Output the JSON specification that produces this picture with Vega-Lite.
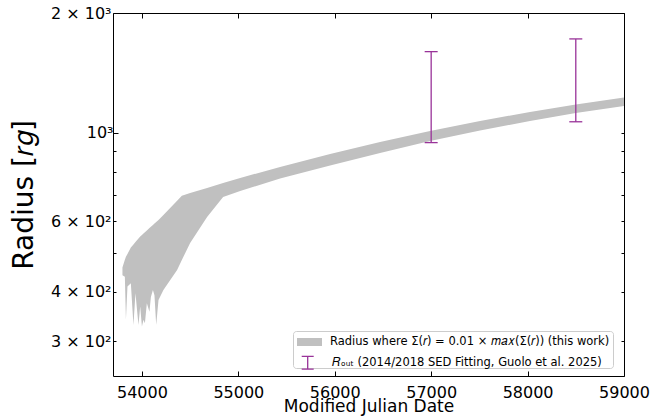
{
  "$schema": "https://vega.github.io/schema/vega-lite/v6.json",
  "width": 511,
  "height": 363,
  "autosize": {"type": "none"},
  "padding": {"left": 113, "top": 13, "right": 46, "bottom": 40},
  "background": "white",
  "config": {
    "view": {"stroke": "black", "strokeWidth": 1},
    "font": "DejaVu Sans",
    "axis": {"grid": false, "domain": false, "tickColor": "black", "labelColor": "black", "titleColor": "black", "titleFontWeight": "normal", "labelFont": "DejaVu Sans", "titleFont": "DejaVu Sans", "labelFontSize": 16, "tickWidth": 1, "labelOverlap": false, "labelFlush": false},
    "legend": {"labelFontSize": 11.5, "labelFont": "DejaVu Sans", "labelColor": "black", "labelLimit": 0, "padding": 3}
  },
  "datasets": {
    "band": [
      {"mjd": 53798, "lo": 440, "hi": 460},
      {"mjd": 53823, "lo": 436, "hi": 481},
      {"mjd": 53834, "lo": 340, "hi": 489},
      {"mjd": 53850, "lo": 412, "hi": 497},
      {"mjd": 53885, "lo": 420, "hi": 516},
      {"mjd": 53912, "lo": 330, "hi": 525},
      {"mjd": 53933, "lo": 396, "hi": 533},
      {"mjd": 53964, "lo": 330, "hi": 544},
      {"mjd": 53982, "lo": 367, "hi": 550},
      {"mjd": 54000, "lo": 327, "hi": 555},
      {"mjd": 54016, "lo": 340, "hi": 560},
      {"mjd": 54031, "lo": 333, "hi": 564},
      {"mjd": 54051, "lo": 374, "hi": 569},
      {"mjd": 54078, "lo": 356, "hi": 578},
      {"mjd": 54093, "lo": 388, "hi": 582},
      {"mjd": 54114, "lo": 404, "hi": 588},
      {"mjd": 54130, "lo": 392, "hi": 593},
      {"mjd": 54148, "lo": 330, "hi": 598},
      {"mjd": 54172, "lo": 381, "hi": 605},
      {"mjd": 54223, "lo": 404, "hi": 623},
      {"mjd": 54365, "lo": 453, "hi": 676},
      {"mjd": 54414, "lo": 480, "hi": 696},
      {"mjd": 54500, "lo": 530, "hi": 707},
      {"mjd": 54676, "lo": 616, "hi": 728},
      {"mjd": 54842, "lo": 691, "hi": 749},
      {"mjd": 55019, "lo": 715, "hi": 771},
      {"mjd": 55433, "lo": 769, "hi": 822},
      {"mjd": 55952, "lo": 829, "hi": 886},
      {"mjd": 56470, "lo": 891, "hi": 949},
      {"mjd": 56988, "lo": 955, "hi": 1012},
      {"mjd": 57507, "lo": 1015, "hi": 1072},
      {"mjd": 58025, "lo": 1072, "hi": 1129},
      {"mjd": 58500, "lo": 1123, "hi": 1179},
      {"mjd": 59000, "lo": 1169, "hi": 1228}
    ],
    "rout": [
      {"mjd": 57000, "lo": 946, "hi": 1600},
      {"mjd": 58500, "lo": 1067, "hi": 1722}
    ]
  },
  "layer": [
    {
      "data": {"name": "band"},
      "mark": {"type": "area", "opacity": 1, "clip": true},
      "encoding": {
        "x": {"field": "mjd", "type": "quantitative", "scale": {"domain": [53700, 59000], "nice": false, "zero": false},
          "axis": {"orient": "bottom", "values": [54000, 55000, 56000, 57000, 58000, 59000], "format": "d", "tickSize": -5, "labelPadding": 13, "title": "Modified Julian Date", "titleFontSize": 17, "titlePadding": -2}},
        "y": {"field": "lo", "type": "quantitative", "scale": {"type": "log", "domain": [245.7, 2000], "nice": false},
          "axis": {"orient": "left", "values": [300, 400, 500, 600, 700, 800, 900, 2000], "tickSize": -3, "labelPadding": 5,
            "labelExpr": "datum.value == 2000 ? '2 × 10³' : datum.value == 600 ? '6 × 10²' : datum.value == 400 ? '4 × 10²' : datum.value == 300 ? '3 × 10²' : ''",
            "title": "Radius  [𝑟𝑔]", "titleFontSize": 28, "titlePadding": 12}},
        "y2": {"field": "hi"},
        "fill": {"datum": "Radius where Σ(𝑟) = 0.01 × 𝑚𝑎𝑥(Σ(𝑟)) (this work)", "type": "nominal",
          "scale": {"range": ["#c0c0c0"]},
          "legend": {"orient": "none", "legendX": 180, "legendY": 318, "title": " ", "titleOrient": "bottom", "titleFontSize": 13, "titlePadding": 4,
            "fillColor": "rgba(255,255,255,0.85)", "strokeColor": "#cccccc", "cornerRadius": 3,
            "symbolType": "M-1.56,-0.5H1.56V0.5H-1.56Z", "symbolSize": 256, "symbolStrokeWidth": 0, "symbolOffset": 5.5, "labelOffset": 12.5}}
      }
    },
    {
      "data": {"name": "rout"},
      "mark": {"type": "rule", "strokeWidth": 1.3},
      "encoding": {
        "x": {"field": "mjd", "type": "quantitative", "axis": {"orient": "top", "values": [54000, 55000, 56000, 57000, 58000, 59000], "tickSize": -5, "labels": false, "title": null}},
        "y": {"field": "lo", "type": "quantitative", "axis": {"orient": "left", "values": [1000], "tickSize": -5, "labelPadding": 5, "labelExpr": "'10³'", "title": null}},
        "y2": {"field": "hi"},
        "stroke": {"datum": "𝑅ₒᵤₜ (2014/2018 SED Fitting, Guolo et al. 2025)", "type": "nominal",
          "scale": {"range": ["#993399"]},
          "legend": {"orient": "none", "legendX": 180, "legendY": 337.7, "title": null, "fillColor": "transparent", "strokeColor": "transparent",
            "symbolType": "M-0.75,-0.8H0.75M0,-0.8V0.8M-0.75,0.8H0.75", "symbolSize": 256, "symbolStrokeWidth": 1.3, "symbolFillColor": "transparent", "symbolOffset": 2.7, "labelOffset": 15.3}}
      }
    },
    {
      "data": {"name": "rout"},
      "mark": {"type": "tick", "orient": "horizontal", "size": 13, "thickness": 1.3, "color": "#993399", "opacity": 1},
      "encoding": {
        "x": {"field": "mjd", "type": "quantitative", "axis": null},
        "y": {"field": "lo", "type": "quantitative", "axis": {"orient": "right", "values": [300, 400, 500, 600, 700, 800, 900, 1000, 2000], "tickSize": -3, "labels": false, "title": null}}
      }
    },
    {
      "data": {"name": "rout"},
      "mark": {"type": "tick", "orient": "horizontal", "size": 13, "thickness": 1.3, "color": "#993399", "opacity": 1},
      "encoding": {
        "x": {"field": "mjd", "type": "quantitative", "axis": null},
        "y": {"field": "hi", "type": "quantitative", "axis": null}
      }
    }
  ],
  "resolve": {"axis": {"x": "independent", "y": "independent"}}
}
